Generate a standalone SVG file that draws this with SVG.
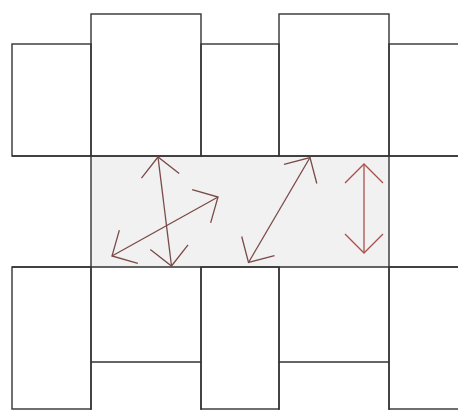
<svg xmlns="http://www.w3.org/2000/svg" width="458" height="410" viewBox="0 0 458 410">
<style>
.box{fill:none;stroke:#333;stroke-width:1.4}
.band{fill:#f1f1f1;stroke:none}
.arr{fill:none;stroke:#7a4a48;stroke-width:1.3}
.arr2{fill:none;stroke:#a9504c;stroke-width:1.3}
</style>
<defs>
<marker id="head" markerUnits="userSpaceOnUse" orient="auto-start-reverse" refX="0" refY="0" markerWidth="1" markerHeight="1" overflow="visible">
<path d="M-19,-19 L0,0 L-19,19" fill="none" stroke="#7a4a48" stroke-width="1.3"/>
</marker>
<marker id="head2" markerUnits="userSpaceOnUse" orient="auto-start-reverse" refX="0" refY="0" markerWidth="1" markerHeight="1" overflow="visible">
<path d="M-19,-19 L0,0 L-19,19" fill="none" stroke="#a9504c" stroke-width="1.3"/>
</marker>
</defs>
<rect width="458" height="410" fill="#fff"/>
<g id="band"><rect class="band" x="91" y="156" width="298" height="111"/></g>
<g id="top-left"><rect class="box" x="12" y="44" width="79" height="112"/></g>
<g id="top-tall-1"><rect class="box" x="91" y="14" width="110" height="142"/></g>
<g id="top-mid"><rect class="box" x="201" y="44" width="78" height="112"/></g>
<g id="top-tall-2"><rect class="box" x="279" y="14" width="110" height="142"/></g>
<g id="top-right"><rect class="box" x="389" y="44" width="80" height="112"/></g>
<g id="band-lines"><path class="box" d="M12,156 H458 M12,267 H458 M91,156 V267 M389,156 V267"/></g>
<g id="bot-left"><rect class="box" x="12" y="267" width="79" height="142"/></g>
<g id="bot-tall-1"><path class="box" d="M91,267 V420 M201,267 V420 M91,362 H201"/></g>
<g id="bot-mid"><rect class="box" x="201" y="267" width="78" height="142"/></g>
<g id="bot-tall-2"><path class="box" d="M279,267 V420 M389,267 V420 M279,362 H389"/></g>
<g id="bot-right"><rect class="box" x="389" y="267" width="80" height="142"/></g>
<g id="connectors">
<line class="arr" x1="158" y1="157" x2="171.5" y2="266" marker-start="url(#head)" marker-end="url(#head)"/>
<line class="arr" x1="112" y1="256" x2="218" y2="197" marker-start="url(#head)" marker-end="url(#head)"/>
<line class="arr" x1="310" y1="157.5" x2="248.5" y2="262.5" marker-start="url(#head)" marker-end="url(#head)"/>
<line class="arr2" x1="364" y1="164" x2="364" y2="253" marker-start="url(#head2)" marker-end="url(#head2)"/>
</g>
</svg>
